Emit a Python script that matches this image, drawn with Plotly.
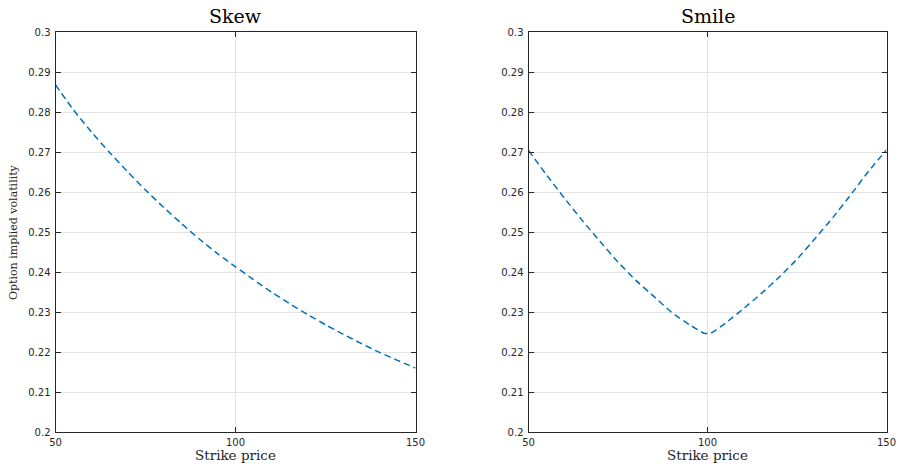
import plotly.graph_objects as go

# Data
skew_strike = [50, 55, 60, 65, 70, 75, 80, 85, 90, 95, 100, 105, 110, 115, 120, 125, 130, 135, 140, 145, 150]
skew_vol = [0.2868, 0.2805, 0.2750, 0.2699, 0.2651, 0.2605, 0.2562, 0.2521, 0.2482, 0.2446, 0.2413,
            0.2381, 0.2350, 0.2321, 0.2294, 0.2268, 0.2244, 0.2221, 0.2199, 0.2179, 0.2160]

smile_strike = [50, 55, 60, 65, 70, 75, 80, 85, 90, 95, 99, 100, 101, 105, 110, 115, 120, 125, 130, 135, 140, 145, 150]
smile_vol = [0.2704, 0.2643, 0.2585, 0.2529, 0.2476, 0.2425, 0.2379, 0.2339, 0.2299, 0.2268, 0.2247, 0.2246, 0.2247,
             0.2272, 0.2308, 0.2346, 0.2387, 0.2432, 0.2483, 0.2536, 0.2593, 0.2652, 0.2705]

x_ticks = [50, 100, 150]
y_ticks = [0.2, 0.21, 0.22, 0.23, 0.24, 0.25, 0.26, 0.27, 0.28, 0.29, 0.3]
y_tick_text = ["0.2", "0.21", "0.22", "0.23", "0.24", "0.25", "0.26", "0.27", "0.28", "0.29", "0.3"]
titles = ["Skew", "Smile"]
x_label = "Strike price"
y_label = "Option implied volatility"

W, H = 900, 464
LINE = "#0072BD"
AX = "#262626"
GRID = "#e3e3e3"
SANS = "DejaVu Sans, Liberation Sans, sans-serif"
SERIF = "DejaVu Serif, Liberation Serif, serif"

fig = go.Figure()
fig.add_trace(go.Scatter(x=skew_strike, y=skew_vol, mode="lines", xaxis="x", yaxis="y",
                         line=dict(color=LINE, width=1.5, dash="6.5px,4px", shape="spline", smoothing=0.6),
                         showlegend=False, hoverinfo="x+y"))
fig.add_trace(go.Scatter(x=smile_strike, y=smile_vol, mode="lines", xaxis="x2", yaxis="y2",
                         line=dict(color=LINE, width=1.5, dash="6.5px,4px", shape="spline", smoothing=0.4),
                         showlegend=False, hoverinfo="x+y"))

domains = [(55.5 / W, 415.5 / W), (528.5 / W, 886.5 / W)]

def xaxis(dom, anchor):
    return dict(domain=dom, anchor=anchor, range=[50, 150], tickvals=x_ticks,
                ticks="inside", ticklen=5, tickcolor=AX, tickwidth=1,
                showline=True, linecolor=AX, linewidth=1, mirror="ticks",
                showgrid=True, gridcolor=GRID, gridwidth=1, zeroline=False, automargin=False,
                tickfont=dict(family=SANS, size=10, color=AX), ticklabelstandoff=1)

def yaxis(anchor):
    return dict(domain=[0, 1], anchor=anchor, range=[0.2, 0.3], tickvals=y_ticks, ticktext=y_tick_text,
                ticks="inside", ticklen=5, tickcolor=AX, tickwidth=1,
                showline=True, linecolor=AX, linewidth=1, mirror="ticks",
                showgrid=True, gridcolor=GRID, gridwidth=1, zeroline=False, automargin=False,
                tickfont=dict(family=SANS, size=10, color=AX), ticklabelstandoff=2)

annotations = []
for i, dom in enumerate(domains):
    cx = (dom[0] + dom[1]) / 2
    annotations.append(dict(text=titles[i], x=cx, y=(432 - 16) / 400, xref="paper", yref="paper",
                            showarrow=False, xanchor="center", yanchor="middle",
                            font=dict(family=SERIF, size=19, color="#000000")))
    annotations.append(dict(text=x_label, x=cx, y=(432 - 455) / 400, xref="paper", yref="paper",
                            showarrow=False, xanchor="center", yanchor="middle",
                            font=dict(family=SERIF, size=13.5, color=AX)))
annotations.append(dict(text=y_label, x=13 / W, y=(432 - 232) / 400, xref="paper", yref="paper", textangle=-90,
                        showarrow=False, xanchor="center", yanchor="middle",
                        font=dict(family=SERIF, size=11, color=AX)))

fig.update_layout(
    width=W, height=H,
    margin=dict(l=0, r=0, t=32, b=32, pad=0, autoexpand=False),
    paper_bgcolor="white", plot_bgcolor="white",
    xaxis=xaxis(domains[0], "y"), yaxis=yaxis("x"),
    xaxis2=xaxis(domains[1], "y2"), yaxis2=yaxis("x2"),
    annotations=annotations,
)

fig.write_html("out.html",
               config={"displayModeBar": False, "responsive": False},
               post_script="document.body.style.margin='0';document.documentElement.style.overflow='hidden';")
